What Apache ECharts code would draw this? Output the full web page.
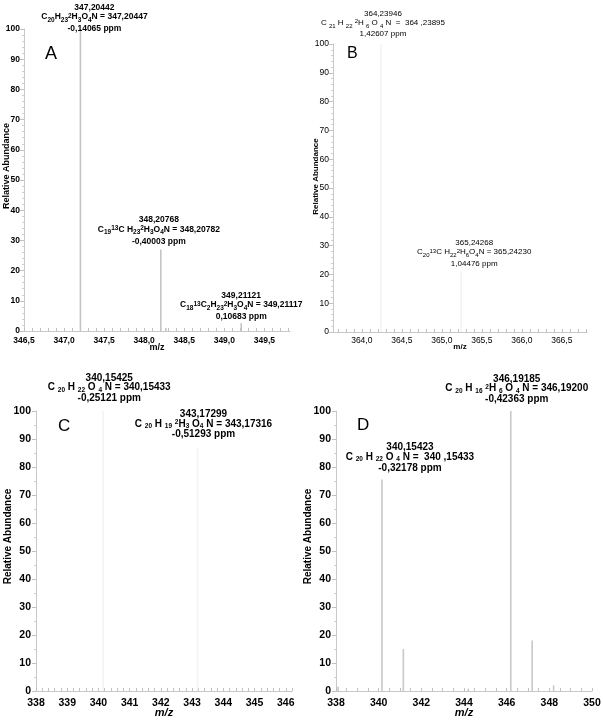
<!DOCTYPE html>
<html><head><meta charset="utf-8">
<script src="https://cdn.jsdelivr.net/npm/echarts@6/dist/echarts.min.js"></script>
<style>html,body{margin:0;padding:0;background:#fff}#c{width:603px;height:720px}</style>
</head><body><div id="c"></div>
<script>
// ---------------- DATA ----------------
// Panel A
const aMz = [347.20442, 348.20768, 348.27, 349.21121];
const aAbund = [100, 27, 1, 2.6];
const aLabelIdx = [0, 1, 3];
const aLabelMeasured = ['347,20442', '348,20768', '349,21121'];
const aLabelFormula = ['C_{20}H_{23}^{2}H_{3}O_{4}N = 347,20447',
  'C_{19}^{13}C H_{23}^{2}H_{3}O_{4}N = 348,20782',
  'C_{18}^{13}C_{2}H_{23}^{2}H_{3}O_{4}N = 349,21117'];
const aLabelPpm = ['-0,14065 ppm', '-0,40003 ppm', '0,10683 ppm'];
const aXTicks = [346.5, 347.0, 347.5, 348.0, 348.5, 349.0, 349.5];
const aXTickLabels = ['346,5', '347,0', '347,5', '348,0', '348,5', '349,0', '349,5'];

// Panel B
const bMz = [364.23946, 365.24268];
const bAbund = [100, 21];
const bLabelIdx = [0, 1];
const bLabelMeasured = ['364,23946', '365,24268'];
const bLabelFormula = ['C _{21} H _{22} ^{2}H _{6} O _{4} N  =  364 ,23895',
  'C_{20}^{13}C H_{22}^{2}H_{6}O_{4}N = 365,24230'];
const bLabelPpm = ['1,42607 ppm', '1,04476 ppm'];
const bXTicks = [364.0, 364.5, 365.0, 365.5, 366.0, 366.5];
const bXTickLabels = ['364,0', '364,5', '365,0', '365,5', '366,0', '366,5'];

// Panel C
const cMz = [340.15425, 343.17299];
const cAbund = [100, 87];
const cLabelIdx = [0, 1];
const cLabelMeasured = ['340,15425', '343,17299'];
const cLabelFormula = ['C _{20} H _{22} O _{4} N = 340,15433',
  'C _{20} H _{19} ^{2}H_{3} O_{4} N = 343,17316'];
const cLabelPpm = ['-0,25121 ppm', '-0,51293 ppm'];
const cXTicks = [338, 339, 340, 341, 342, 343, 344, 345, 346];
const cXTickLabels = ['338', '339', '340', '341', '342', '343', '344', '345', '346'];

// Panel D
const dMz = [338.1, 340.15423, 341.157, 344.2, 346.19185, 347.195, 348.2];
const dAbund = [1.5, 75.5, 15, 0.8, 100, 18, 2];
const dLabelIdx = [4, 1];
const dLabelMeasured = ['346,19185', '340,15423'];
const dLabelFormula = ['C _{20} H _{16} ^{2}H _{6} O _{4} N = 346,19200',
  'C _{20} H _{22} O _{4} N =  340 ,15433'];
const dLabelPpm = ['-0,42363 ppm', '-0,32178 ppm'];
const dXTicks = [338, 340, 342, 344, 346, 348, 350];
const dXTickLabels = ['338', '340', '342', '344', '346', '348', '350'];

// Shared y axis
const yTicks = [0, 10, 20, 30, 40, 50, 60, 70, 80, 90, 100];
const yTickLabels = ['0', '10', '20', '30', '40', '50', '60', '70', '80', '90', '100'];
const yName = 'Relative Abundance';
const xName = 'm/z';
const panelLetters = ['A', 'B', 'C', 'D'];

// ---------------- STYLE / LAYOUT ----------------
const FONT = '"Liberation Sans", Arial, Helvetica, sans-serif';
const panels = [
  { mz: aMz, ab: aAbund, idx: aLabelIdx, meas: aLabelMeasured, form: aLabelFormula, ppm: aLabelPpm,
    xT: aXTicks, xL: aXTickLabels, xMin: 346.5, xMax: 349.82, minorStep: 0.1, yMinorSplit: 5,
    grid: { left: 24, top: 29, width: 266, height: 302 },
    peakColor: '#c4c4c4', lblF: 8.5, lblFs: 6.5, lblL: 10.5, lblFL: 11, lblW: 'bold',
    offsets: [[14, 5], [-2, -3], [0, -1]],
    tickF: 8.5, tickW: 'bold', xMargin: 5, yMargin: 4, nameF: 9, yNameGap: 13, yNameShift: 28,
    xNameGap: 12, xNameStyle: 'normal', letter: { left: 45, top: 45, size: 18 } },
  { mz: bMz, ab: bAbund, idx: bLabelIdx, meas: bLabelMeasured, form: bLabelFormula, ppm: bLabelPpm,
    xT: bXTicks, xL: bXTickLabels, xMin: 363.64, xMax: 366.815, minorStep: 0.1, yMinorSplit: 5,
    grid: { left: 333, top: 44, width: 254, height: 288 },
    peakColor: '#f3f3f3', lblF: 8, lblFs: 6, lblL: 10, lblFL: 10.5, lblW: 'normal',
    offsets: [[2, -5], [13, -3]],
    tickF: 8.5, tickW: 'normal', xMargin: 4, yMargin: 4, nameF: 8, yNameGap: 13, yNameShift: 23,
    xNameGap: 11, xNameStyle: 'normal', letter: { left: 347, top: 46, size: 16 } },
  { mz: cMz, ab: cAbund, idx: cLabelIdx, meas: cLabelMeasured, form: cLabelFormula, ppm: cLabelPpm,
    xT: cXTicks, xL: cXTickLabels, xMin: 338, xMax: 346.2, minorStep: 0.2, yMinorSplit: 2,
    grid: { left: 36, top: 411, width: 256, height: 280 },
    peakColor: '#f3f3f3', lblF: 10, lblFs: 6.5, lblL: 9.5, lblFL: 11, lblW: 'bold',
    offsets: [[6, -8], [6, -8]],
    tickF: 10.5, tickW: 'bold', xMargin: 7, yMargin: 5, nameF: 10, yNameGap: 23, yNameShift: 29,
    xNameGap: 16, xNameStyle: 'italic', letter: { left: 58, top: 418, size: 17 } },
  { mz: dMz, ab: dAbund, idx: dLabelIdx, meas: dLabelMeasured, form: dLabelFormula, ppm: dLabelPpm,
    xT: dXTicks, xL: dXTickLabels, xMin: 338, xMax: 350, minorStep: 0.5, yMinorSplit: 2,
    grid: { left: 336, top: 411, width: 256, height: 280 },
    peakColor: '#c8c8c8', lblF: 10, lblFs: 6.5, lblL: 9.5, lblFL: 11, lblW: 'bold',
    offsets: [[6, -7], [28, -7]],
    tickF: 10.5, tickW: 'bold', xMargin: 7, yMargin: 5, nameF: 10, yNameGap: 23, yNameShift: 29,
    xNameGap: 16, xNameStyle: 'italic', letter: { left: 357, top: 417, size: 17 } }
];

function parseFormula(str) {
  const re = /_\{([^}]*)\}|\^\{([^}]*)\}|([^_^]+)/g;
  let m, out = '';
  while ((m = re.exec(str))) {
    if (m[1] !== undefined) out += '{s|' + m[1] + '}';
    else if (m[2] !== undefined) out += '{p|' + m[2] + '}';
    else out += '{f|' + m[3] + '}';
  }
  return out;
}
function richStyles(p) {
  const base = { fontFamily: FONT, fontWeight: p.lblW, color: '#000' };
  return {
    n: Object.assign({}, base, { fontSize: p.lblF, lineHeight: p.lblL }),
    f: Object.assign({}, base, { fontSize: p.lblF, lineHeight: p.lblFL, verticalAlign: 'top' }),
    s: Object.assign({}, base, { fontSize: p.lblFs, lineHeight: p.lblFL, verticalAlign: 'bottom' }),
    p: Object.assign({}, base, { fontSize: p.lblFs, lineHeight: p.lblFL, verticalAlign: 'top' })
  };
}
function labelFor(v, list, labels) {
  let best = 0;
  list.forEach((t, i) => { if (Math.abs(t - v) < Math.abs(list[best] - v)) best = i; });
  return labels[best];
}
function range(a, b, step) {
  const out = [];
  const start = Math.ceil(a / step - 1e-6);
  for (let k = start; k * step <= b + 1e-9; k++) out.push(+(k * step).toFixed(4));
  return out;
}

const grids = [], xAxes = [], yAxes = [], series = [], titles = [];
panels.forEach((p, i) => {
  grids.push(Object.assign({ containLabel: false, outerBoundsMode: 'none' }, p.grid));
  xAxes.push({
    type: 'value', gridIndex: i, min: p.xMin, max: p.xMax,
    name: xName, nameLocation: 'middle', nameGap: p.xNameGap, nameMoveOverlap: false,
    nameTextStyle: { fontFamily: FONT, fontSize: p.nameF + (i >= 2 ? 1 : 0), fontWeight: 'bold', fontStyle: p.xNameStyle, color: '#000' },
    axisLine: { show: true, lineStyle: { color: '#c8c8c8', width: 1 } },
    axisTick: { show: true, inside: true, length: 3, lineStyle: { color: '#c0c0c0' },
      customValues: range(p.xMin, p.xMax, p.minorStep) },
    axisLabel: { show: true, margin: p.xMargin, customValues: p.xT,
      formatter: v => labelFor(v, p.xT, p.xL),
      fontFamily: FONT, fontSize: p.tickF, fontWeight: p.tickW, color: '#000' },
    splitLine: { show: false }
  });
  yAxes.push({
    type: 'value', gridIndex: i, min: 0, max: 100, interval: 10,
    name: yName, nameLocation: 'middle', nameGap: p.yNameGap, nameMoveOverlap: false,
    nameTextStyle: { fontFamily: FONT, fontSize: p.nameF, fontWeight: 'bold', color: '#000', padding: [0, 0, 0, p.yNameShift] },
    axisLine: { show: true, lineStyle: { color: '#c8c8c8', width: 1 } },
    axisTick: { show: true, inside: false, length: 4, lineStyle: { color: '#c0c0c0' } },
    minorTick: { show: true, splitNumber: p.yMinorSplit, length: 2, lineStyle: { color: '#d0d0d0' } },
    axisLabel: { margin: p.yMargin, formatter: v => labelFor(v, yTicks, yTickLabels),
      fontFamily: FONT, fontSize: p.tickF, fontWeight: p.tickW, color: '#000' },
    splitLine: { show: false }
  });
  const rich = richStyles(p);
  const data = p.mz.map((x, k) => {
    const item = { value: [x, p.ab[k]] };
    const li = p.idx.indexOf(k);
    if (li >= 0) {
      const txt = '{n|' + p.meas[li] + '}\n' + parseFormula(p.form[li]) + '\n{n|' + p.ppm[li] + '}';
      item.label = { show: true, position: 'top', distance: 0, offset: p.offsets[li],
        formatter: () => txt, rich: rich };
    }
    return item;
  });
  series.push({
    type: 'bar', xAxisIndex: i, yAxisIndex: i, barWidth: 1.6, data: data,
    itemStyle: { color: p.peakColor }, label: { show: false }, silent: true, clip: false
  });
  titles.push({ text: panelLetters[i], left: p.letter.left, top: p.letter.top, padding: 0,
    textStyle: { fontFamily: FONT, fontSize: p.letter.size, fontWeight: 'normal', color: '#000' } });
});

const chart = echarts.init(document.getElementById('c'), null, { renderer: 'canvas' });
chart.setOption({
  animation: false, backgroundColor: '#fff',
  title: titles, grid: grids, xAxis: xAxes, yAxis: yAxes, series: series
});
</script></body></html>
